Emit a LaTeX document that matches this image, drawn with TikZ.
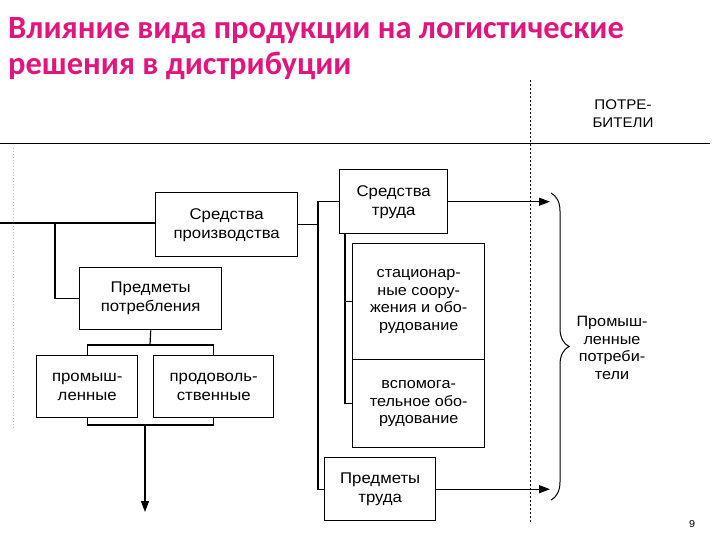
\documentclass[tikz,border=0pt]{standalone}
\usepackage{fontspec}
\newfontfamily\boxfont{Liberation Sans}[FakeStretch=1.08]
\newfontfamily\titlefont{Carlito}
\usetikzlibrary{arrows.meta,decorations.pathreplacing}
\definecolor{titlepink}{RGB}{226,20,126}
\begin{document}
\begin{tikzpicture}[x=1pt,y=-1pt,
  box/.style={draw,line width=1.4pt,align=center,inner sep=0pt,anchor=north west,
    font=\boxfont\fontsize{15.5}{19}\selectfont},
  tbox/.style={box,font=\boxfont\fontsize{15}{17.5}\selectfont},
  conn/.style={line width=1.2pt},
  arr/.style={conn,-{Triangle[length=11pt,width=8pt]}},
  lbl/.style={inner sep=0pt,align=center,font=\boxfont\fontsize{15}{17.5}\selectfont},
  ttl/.style={anchor=base west,inner sep=0pt,text=titlepink,
    font=\titlefont\bfseries\fontsize{32.5}{38}\selectfont}
]
\useasboundingbox (0,0) rectangle (720,540);

% title
\node[ttl] (t1) at (8,39) {Влияние вида продукции на логистические};
\node[ttl] (t2) at (8,75) {решения в дистрибуции};

% header
\node[lbl,font=\boxfont\fontsize{14}{18}\selectfont] (cons) at (623,114) {ПОТРЕ-\\БИТЕЛИ};
\coordinate (r0) at (0,144);
\coordinate (r1) at (710,144);
\draw[line width=1pt] (r0) -- (r1);
\coordinate (d0) at (530,80);
\coordinate (d1) at (530,522);
\draw[line width=0.8pt,dash pattern=on 2pt off 2pt] (d0) -- (d1);
\coordinate (e0) at (13,148);
\coordinate (e1) at (13,430);
\draw[gray!45,line width=0.6pt,dash pattern=on 1pt off 2pt] (e0) -- (e1);

% boxes
\node[box,minimum width=142pt,minimum height=64pt] (sp) at (155,192) {Средства\\производства};
\node[box,minimum width=142pt,minimum height=62pt] (pp) at (79,267) {Предметы\\потребления};
\node[box,minimum width=101pt,minimum height=62pt] (pl) at (36,355) {промыш-\\ленные};
\node[box,minimum width=120pt,minimum height=62pt] (pf) at (153,355) {продоволь-\\ственные};
\node[box,minimum width=108pt,minimum height=64pt] (st) at (339,169) {Средства\\труда};
\node[tbox,minimum width=132pt,minimum height=116pt] (sc) at (352,243) {стационар-\\ные соору-\\жения и обо-\\рудование};
\node[tbox,minimum width=132pt,minimum height=88pt] (aux) at (352,359) {вспомога-\\тельное обо-\\рудование};
\node[box,minimum width=111pt,minimum height=63pt] (pt) at (324,457) {Предметы\\труда};

% left part
\coordinate (L0) at (0,223);
\coordinate (b1) at (55,223);
\draw[conn] (L0) -- (sp.west |- L0);
\draw[conn] (b1) |- (pp.west);
\coordinate (brT) at (150,345);
\coordinate (brB) at (145,425);
\coordinate (aE) at (145,512);
\draw[conn] (pp.south) -- (brT);
\draw[conn] (pl.north) |- (brT) -| (pf.north);
\draw[conn] (pl.south) |- (brB) -| (pf.south);
\draw[arr] (brB) -- (aE);

% right part
\coordinate (vx) at (318,300);
\draw[conn] (sp.east) -- (sp.east -| vx);
\draw[conn] (st.west) -| (vx) |- (pt.west);
\coordinate (ix) at (345,233);
\draw[conn] (ix) |- (aux.west);
\draw[conn] (ix |- sc.west) -- (sc.west);
\coordinate (a1) at (550,0);
\draw[arr] (st.east) -- (st.east -| a1);
\draw[arr] (pt.east) -- (pt.east -| a1);

% brace
\coordinate (br0) at (551,193);
\coordinate (br1) at (551,500);
\draw[line width=1pt,decorate,decoration={brace,amplitude=18pt}] (br0) -- (br1);
\node[lbl] (pc) at (612,348) {Промыш-\\ленные\\потреби-\\тели};

\node[inner sep=0pt,font=\boxfont\fontsize{10}{12}\selectfont] (pg) at (692,524) {9};
\end{tikzpicture}
\end{document}
